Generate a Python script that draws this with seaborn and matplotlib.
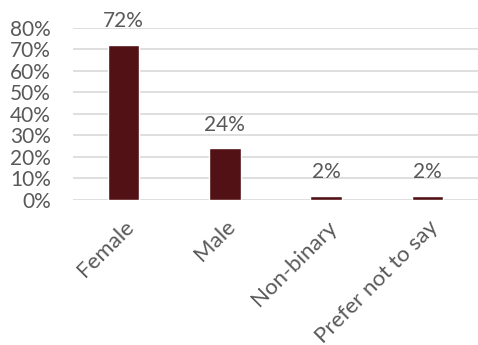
import matplotlib
matplotlib.use("Agg")
import matplotlib.pyplot as plt
import seaborn as sns
import pandas as pd
from matplotlib.ticker import PercentFormatter

categories = ["Female", "Male", "Non-binary", "Prefer not to say"]
shares = [72, 24, 2, 2]
y_ticks = [0, 10, 20, 30, 40, 50, 60, 70, 80]

df = pd.DataFrame({"category": categories, "share": shares})

sns.set_theme(style="white")
plt.rcParams["font.family"] = ["Lato", "DejaVu Sans"]

fig = plt.figure(figsize=(4.78, 3.45), dpi=100)
ax = fig.add_axes([0.1527, 0.4203, 0.8473, 0.4986])

bar_color = "#521114"
text_color = "#595959"

sns.barplot(data=df, x="category", y="share", color=bar_color, width=0.31,
            saturation=1, ax=ax, zorder=3)

ax.set_ylim(0, 80)
ax.set_xlim(-0.5, 3.5)
ax.set_yticks(y_ticks)
ax.yaxis.set_major_formatter(PercentFormatter(decimals=0))
ax.grid(axis="y", color="#d9d9d9", linewidth=1.2, zorder=0)
ax.set_axisbelow(True)
for s in ax.spines.values():
    s.set_visible(False)

ax.set_xlabel("")
ax.set_ylabel("")
ax.tick_params(axis="y", length=0, pad=16, labelsize=15, labelcolor=text_color)
ax.tick_params(axis="x", length=0, pad=12, labelsize=16, labelcolor=text_color)
for lbl in ax.get_xticklabels():
    lbl.set_rotation(45)
    lbl.set_ha("right")
    lbl.set_rotation_mode("anchor")

for cont in ax.containers:
    ax.bar_label(cont, labels=[f"{v}%" for v in shares], padding=10,
                 fontsize=15, color=text_color)

fig.savefig("out.png", dpi=100)
